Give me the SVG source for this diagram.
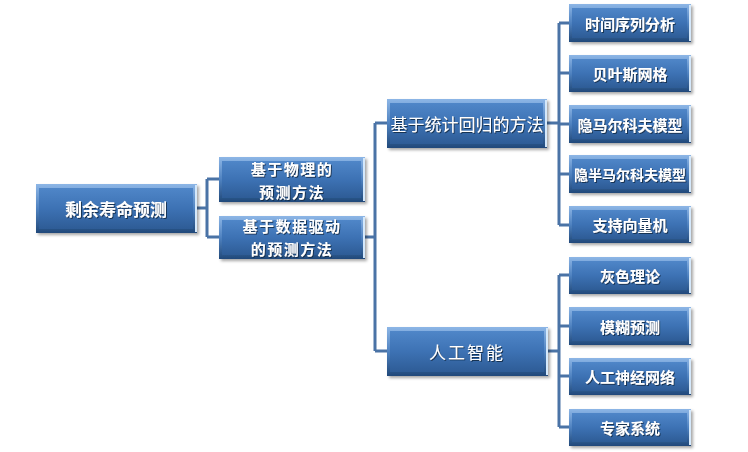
<svg xmlns="http://www.w3.org/2000/svg" width="748" height="452" viewBox="0 0 748 452">
<defs>
<linearGradient id="face" x1="0" y1="0" x2="0" y2="1">
<stop offset="0" stop-color="#4f86c8"/>
<stop offset="0.5" stop-color="#3d72b4"/>
<stop offset="1" stop-color="#2e5c96"/>
</linearGradient>
<linearGradient id="edge" x1="0" y1="0" x2="0" y2="1">
<stop offset="0" stop-color="#8db6e6"/>
<stop offset="0.5" stop-color="#4f82c0"/>
<stop offset="1" stop-color="#21497a"/>
</linearGradient>
<filter id="sh" x="-10%" y="-10%" width="125%" height="135%">
<feDropShadow dx="2" dy="2" stdDeviation="1.5" flood-color="#000" flood-opacity="0.35"/>
</filter>
<filter id="tsh" x="-10%" y="-20%" width="120%" height="150%">
<feDropShadow dx="1" dy="1" stdDeviation="0.6" flood-color="#0a2540" flood-opacity="0.8"/>
</filter>
</defs>
<style>
.outer{fill:url(#edge);filter:url(#sh)}
.face{fill:url(#face)}
.rim{fill:none;stroke:#d4e8fb;stroke-width:2}
text{fill:#fff;font-family:"Noto Sans CJK SC","Noto Sans",sans-serif;text-anchor:middle;dominant-baseline:central;filter:url(#tsh)}
.b{font-weight:bold}
.t17{font-size:17px}
.t2l{font-size:15px;letter-spacing:1.5px}
.t15{font-size:15px}
.t14{font-size:14px}
.lines path{fill:none;stroke:#4a73a6;stroke-width:3}
</style>
<rect width="748" height="452" fill="#fff"/>
<g class="lines">
<path d="M197 208H207M207 179V237M207 179H219M207 237H219"/>
<path d="M365 237H375M375 123V351M375 123H387M375 351H387"/>
<path d="M547 123H559M559 23V225M559 23H569M559 73H569M559 124H569M559 174H569M559 225H569"/>
<path d="M548 351H559M559 275V427M559 275H569M559 326H569M559 376H569M559 427H569"/>
</g>
<g id="n-root"><rect class="outer" x="36" y="184" width="161" height="49"/><rect class="face" x="39" y="188" width="154" height="41"/><line class="rim" x1="196" y1="185" x2="196" y2="232"/><text class="b t17" x="116" y="208">剩余寿命预测</text></g>
<g id="n-phys"><rect class="outer" x="219" y="157" width="146" height="45"/><rect class="face" x="222" y="161" width="139" height="37"/><line class="rim" x1="364" y1="158" x2="364" y2="201"/><text class="b t2l" x="292" y="168">基于物理的</text><text class="b t2l" x="292" y="191">预测方法</text></g>
<g id="n-data"><rect class="outer" x="219" y="216" width="146" height="43"/><rect class="face" x="222" y="220" width="139" height="35"/><line class="rim" x1="364" y1="217" x2="364" y2="258"/><text class="b t2l" x="292" y="225">基于数据驱动</text><text class="b t2l" x="292" y="248">的预测方法</text></g>
<g id="n-stat"><rect class="outer" x="387" y="99" width="160" height="49"/><rect class="face" x="390" y="103" width="153" height="41"/><line class="rim" x1="546" y1="100" x2="546" y2="147"/><text class="t17" x="467" y="123">基于统计回归的方法</text></g>
<g id="n-ai"><rect class="outer" x="387" y="327" width="161" height="49"/><rect class="face" x="390" y="331" width="154" height="41"/><line class="rim" x1="547" y1="328" x2="547" y2="375"/><text class="t17" x="467" y="351" letter-spacing="2">人工智能</text></g>
<g id="n-l1"><rect class="outer" x="569" y="4" width="122" height="38"/><rect class="face" x="572" y="8" width="115" height="30"/><line class="rim" x1="690" y1="5" x2="690" y2="41"/><text class="b t15" x="630" y="23">时间序列分析</text></g>
<g id="n-l2"><rect class="outer" x="569" y="55" width="122" height="37"/><rect class="face" x="572" y="59" width="115" height="29"/><line class="rim" x1="690" y1="56" x2="690" y2="91"/><text class="b t15" x="630" y="73">贝叶斯网格</text></g>
<g id="n-l3"><rect class="outer" x="569" y="105" width="122" height="38"/><rect class="face" x="572" y="109" width="115" height="30"/><line class="rim" x1="690" y1="106" x2="690" y2="142"/><text class="b t15" x="630" y="124">隐马尔科夫模型</text></g>
<g id="n-l4"><rect class="outer" x="569" y="155" width="122" height="38"/><rect class="face" x="572" y="159" width="115" height="30"/><line class="rim" x1="690" y1="156" x2="690" y2="192"/><text class="b t14" x="630" y="174">隐半马尔科夫模型</text></g>
<g id="n-l5"><rect class="outer" x="569" y="206" width="122" height="37"/><rect class="face" x="572" y="210" width="115" height="29"/><line class="rim" x1="690" y1="207" x2="690" y2="242"/><text class="b t15" x="630" y="224">支持向量机</text></g>
<g id="n-l6"><rect class="outer" x="569" y="257" width="122" height="37"/><rect class="face" x="572" y="261" width="115" height="29"/><line class="rim" x1="690" y1="258" x2="690" y2="293"/><text class="b t15" x="630" y="275">灰色理论</text></g>
<g id="n-l7"><rect class="outer" x="569" y="307" width="122" height="38"/><rect class="face" x="572" y="311" width="115" height="30"/><line class="rim" x1="690" y1="308" x2="690" y2="344"/><text class="b t15" x="630" y="326">模糊预测</text></g>
<g id="n-l8"><rect class="outer" x="569" y="358" width="122" height="37"/><rect class="face" x="572" y="362" width="115" height="29"/><line class="rim" x1="690" y1="359" x2="690" y2="394"/><text class="b t15" x="630" y="376">人工神经网络</text></g>
<g id="n-l9"><rect class="outer" x="569" y="409" width="122" height="37"/><rect class="face" x="572" y="413" width="115" height="29"/><line class="rim" x1="690" y1="410" x2="690" y2="445"/><text class="b t15" x="630" y="427">专家系统</text></g>
</svg>
